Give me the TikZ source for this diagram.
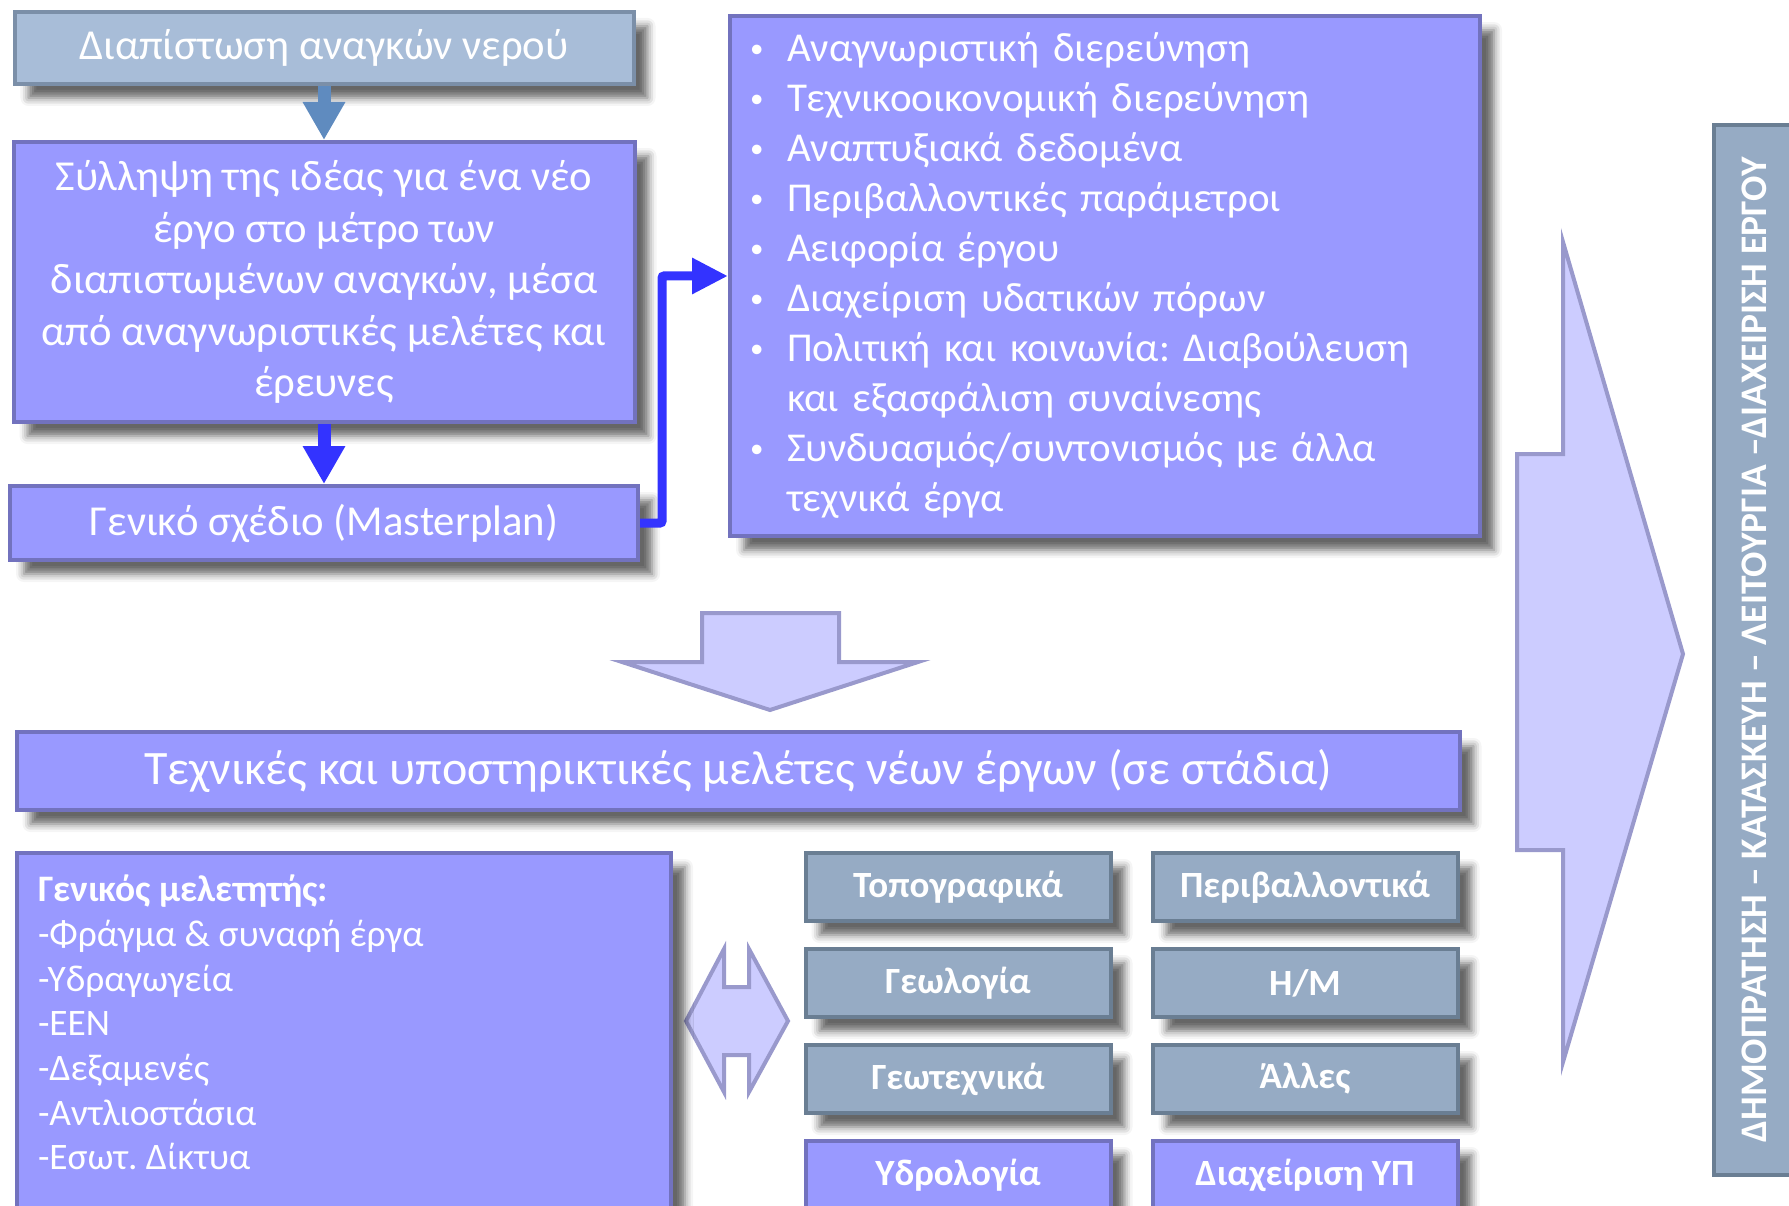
\documentclass[tikz,border=0pt]{standalone}
\usepackage{fontspec}
\setmainfont{Carlito}
\usepackage{tikz}
\usetikzlibrary{arrows.meta,shadows.blur}
\definecolor{lavbox}{RGB}{153,153,255}
\definecolor{lavline}{RGB}{114,114,190}
\definecolor{steelbox}{RGB}{168,189,216}
\definecolor{steelline}{RGB}{123,143,168}
\definecolor{greybox}{RGB}{150,171,196}
\definecolor{greyline}{RGB}{106,126,147}
\definecolor{paleblock}{RGB}{204,204,255}
\definecolor{paleline}{RGB}{153,153,204}
\definecolor{steelarrow}{RGB}{95,139,191}
\definecolor{bluearrow}{RGB}{51,51,255}
\newcommand{\itm}{\makebox[34pt][l]{\hspace*{-3pt}\raisebox{4.5pt}{\fontsize{27}{27}\selectfont •}}}
\newcommand{\cnt}{\hspace*{34pt}}
\frenchspacing

\begin{document}
\begin{tikzpicture}[
    x=1pt, y=-1pt,
    every node/.style={font=\fontsize{42.7}{51.5}\selectfont, text=white},
    boxshadow/.style={blur shadow={shadow xshift=14pt, shadow yshift=-14pt, shadow blur radius=8pt, shadow opacity=60}},
    box/.style={rectangle, draw=lavline, fill=lavbox, line width=4pt, align=center, boxshadow},
    topbox/.style={box, draw=steelline, fill=steelbox},
    studybox/.style={box, draw=greyline, fill=greybox, minimum width=305pt, minimum height=68pt, font=\fontsize{37}{44}\selectfont\bfseries},
    hydrobox/.style={studybox, draw=lavline, fill=lavbox},
    stagebox/.style={rectangle, draw=greyline, fill=greybox, line width=4pt, font=\fontsize{37.5}{44}\selectfont\bfseries},
    blockarrow/.style={draw=paleline, fill=paleblock, line width=4pt, line join=miter},
    fat/.style={line width=13pt, -{Triangle[width=40pt,length=38pt]}},
    elbow/.style={line width=9pt, bluearrow, rounded corners=2pt, -{Triangle[width=34pt,length=36pt]}}
]
    \useasboundingbox (0,0) rectangle (1789,1206);

    % left column
    \node[topbox, minimum width=619pt, minimum height=72pt] (needs) at (324,48) {Διαπίστωση αναγκών νερού};
    \node[box, minimum width=621pt, minimum height=280pt] (concept) at (324,282)
        {Σύλληψη της ιδέας για ένα νέο\\ έργο στο μέτρο των\\ διαπιστωμένων αναγκών, μέσα\\ από αναγνωριστικές μελέτες και\\ έρευνες};
    \node[box, minimum width=628pt, minimum height=74pt] (master) at (324,523) {Γενικό σχέδιο (Masterplan)};

    % list of factors
    \node[box, minimum width=750pt, minimum height=520pt, inner xsep=23pt, text width=704pt, align=left,
          font=\fontsize{41}{50}\selectfont] (factors) at (1105,276)
        {\itm Αναγνωριστική διερεύνηση\\
         \itm Τεχνικοοικονομική διερεύνηση\\
         \itm Αναπτυξιακά δεδομένα\\
         \itm Περιβαλλοντικές παράμετροι\\
         \itm Αειφορία έργου\\
         \itm Διαχείριση υδατικών πόρων\\
         \itm Πολιτική και κοινωνία: Διαβούλευση\\
         \cnt και εξασφάλιση συναίνεσης\\
         \itm Συνδυασμός/συντονισμός με άλλα\\
         \cnt τεχνικά έργα};

    \draw[fat, steelarrow] (needs) -- (concept);
    \draw[fat, bluearrow] (concept) -- (master);
    \draw[elbow] (master.east) -- ++(22,0) |- (factors.west);

    % block arrows
    \draw[blockarrow] (702,613) -- (839,613) -- (839,662) -- (918,662) -- (770,710) -- (622,662) -- (702,662) -- cycle;
    \draw[blockarrow] (1517,454) -- (1563,454) -- (1563,242) -- (1683,654) -- (1563,1062) -- (1563,850) -- (1517,850) -- cycle;
    \draw[blockarrow] (686,1021) -- (724,949) -- (724,987) -- (749,987) -- (749,949) -- (788,1021)
        -- (749,1092) -- (749,1055) -- (724,1055) -- (724,1092) -- cycle;

    % studies
    \node[box, minimum width=1443pt, minimum height=78pt, font=\fontsize{48}{56}\selectfont] (studies) at (738,771)
        {Τεχνικές και υποστηρικτικές μελέτες νέων έργων (σε στάδια)};
    \node[box, anchor=north west, inner xsep=21pt, inner ysep=22pt, font=\fontsize{37.4}{44.7}\selectfont] (designer) at (15,851)
        {\parbox[c][360pt][t]{612pt}{\raggedright
         \textbf{Γενικός μελετητής:}\\ -Φράγμα \& συναφή έργα\\ -Υδραγωγεία\\ -ΕΕΝ\\ -Δεξαμενές\\ -Αντλιοστάσια\\ -Εσωτ. Δίκτυα}};

    \node[studybox] (topo) at (958,887) {Τοπογραφικά};
    \node[studybox] (envir) at (1305,887) {Περιβαλλοντικά};
    \node[studybox] (geol) at (958,983) {Γεωλογία};
    \node[studybox] (elmech) at (1305,983) {Η/Μ};
    \node[studybox] (geotech) at (958,1079) {Γεωτεχνικά};
    \node[studybox] (other) at (1305,1079) {Άλλες};
    \node[hydrobox] (hydro) at (958,1175) {Υδρολογία};
    \node[hydrobox] (water) at (1305,1175) {Διαχείριση ΥΠ};

    % final stage
    \node[stagebox, rotate=90, minimum width=1049pt, minimum height=80pt] (stage) at (1754,650)
        {ΔΗΜΟΠΡΑΤΗΣΗ – ΚΑΤΑΣΚΕΥΗ – ΛΕΙΤΟΥΡΓΙΑ –ΔΙΑΧΕΙΡΙΣΗ ΕΡΓΟΥ};
\end{tikzpicture}
\end{document}
